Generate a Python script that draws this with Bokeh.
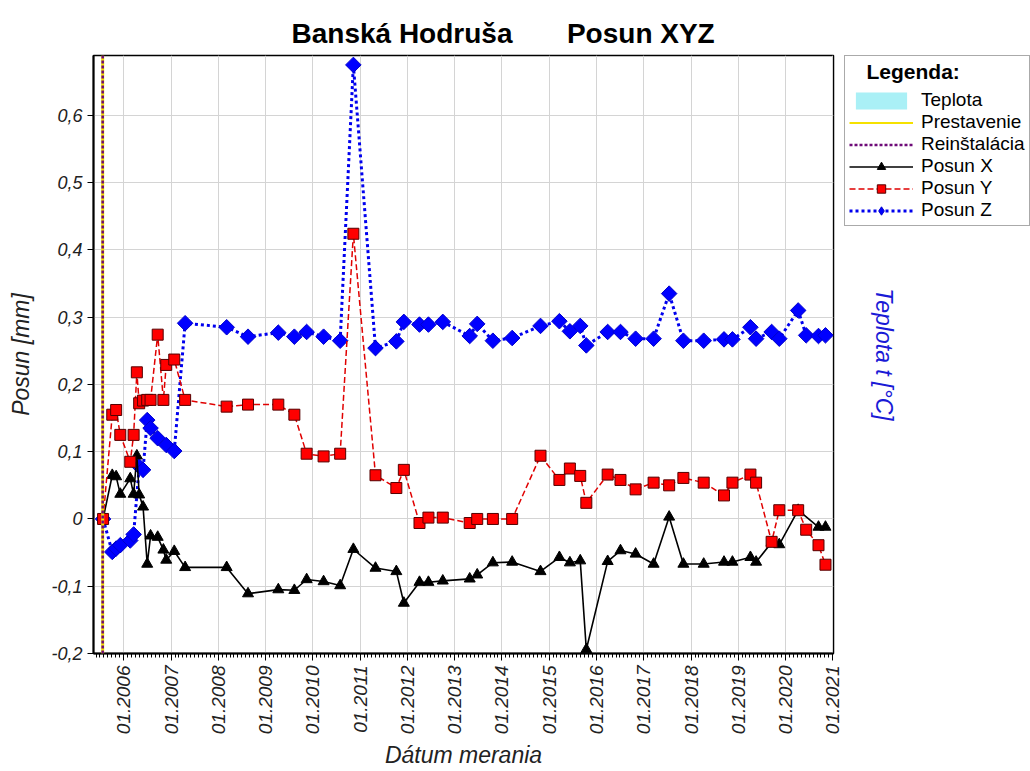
import math
import pandas as pd
from bokeh.plotting import figure
from bokeh.layouts import row
from bokeh.models import (ColumnDataSource, Range1d, FixedTicker, Label,
                          CustomJSTickFormatter, DatetimeTickFormatter, Span,
                          Legend, LegendItem)
from bokeh.embed import file_html
from bokeh.resources import INLINE

FONT = "Liberation Sans"

TITLE = "Banská Hodruša\u00a0\u00a0\u00a0\u00a0\u00a0\u00a0\u00a0Posun XYZ"

DATES = ["2005-07-25", "2005-10-04", "2005-11-03", "2005-12-05", "2006-02-20",
         "2006-03-18", "2006-04-12", "2006-04-30", "2006-05-30", "2006-07-01",
         "2006-07-27", "2006-09-20", "2006-11-03", "2006-11-25", "2007-01-26",
         "2007-04-20", "2008-03-06", "2008-08-18", "2009-04-09", "2009-08-11",
         "2009-11-14", "2010-03-25", "2010-07-31", "2010-11-10", "2011-04-30",
         "2011-10-08", "2011-12-05", "2012-04-04", "2012-06-12", "2012-10-01",
         "2013-04-27", "2013-06-24", "2013-10-23", "2014-03-21", "2014-10-26",
         "2015-03-21", "2015-06-10", "2015-08-29", "2015-10-15", "2016-03-28",
         "2016-07-05", "2016-10-30", "2017-03-18", "2017-07-16", "2017-11-03",
         "2018-04-09", "2018-09-13", "2018-11-17", "2019-04-05", "2019-05-19",
         "2019-09-16", "2019-11-14", "2020-04-08", "2020-06-09", "2020-09-12",
         "2020-11-05"]

POSUN_X = [0.0, 0.065, 0.063, 0.037, 0.060, 0.037, 0.094, 0.036, 0.018, -0.067,
           -0.025, -0.027, -0.046, -0.061, -0.048, -0.072,
           -0.072, -0.111, -0.105, -0.106, -0.090, -0.093, -0.099, -0.045,
           -0.073, -0.078, -0.125, -0.094, -0.094, -0.092, -0.089, -0.083,
           -0.065, -0.064, -0.078, -0.057, -0.065, -0.062, -0.194, -0.063,
           -0.047, -0.052, -0.067, 0.003, -0.067, -0.067, -0.064, -0.064,
           -0.057, -0.064, -0.035, -0.038, 0.013, None, -0.012, -0.012]

POSUN_Y = [0.0, 0.155, 0.162, 0.125, 0.085, 0.125, 0.218, 0.172, 0.176, 0.177,
           0.177, 0.274, 0.177, 0.229, 0.237, 0.177,
           0.167, 0.170, 0.170, 0.155, 0.097, 0.093, 0.097, 0.424,
           0.065, 0.046, 0.073, -0.006, 0.002, 0.002, -0.006, 0.000,
           0.000, 0.000, 0.094, 0.058, 0.075, 0.064, 0.024, 0.066,
           0.058, 0.044, 0.054, 0.050, 0.061, 0.054, 0.035, 0.054,
           0.066, 0.054, -0.034, 0.013, 0.013, -0.016, -0.039, -0.068]

POSUN_Z = [0.0, -0.049, -0.044, -0.039, -0.032, -0.023, None, 0.078, 0.073, 0.147,
           0.135, 0.120, None, 0.110, 0.101, 0.291,
           0.285, 0.271, 0.277, 0.271, 0.278, 0.271, 0.265, 0.675,
           0.254, 0.264, 0.293, 0.289, 0.289, 0.293, 0.272, 0.290,
           0.265, 0.269, 0.287, 0.294, 0.279, 0.287, 0.258, 0.278,
           0.278, 0.268, 0.268, 0.335, 0.265, 0.265, 0.267, 0.267,
           0.285, 0.268, 0.278, 0.268, 0.310, 0.273, 0.272, 0.273]

REINSTALACIA = "2005-07-22"
PRESTAVENIE = "2005-07-22"

Y_TICKS = [-0.2, -0.1, 0.0, 0.1, 0.2, 0.3, 0.4, 0.5, 0.6]
TICK_YEARS = list(range(2006, 2022))
X_START, X_END = "2005-05-12", "2021-01-06"
Y_MIN, Y_MAX = -0.2, 0.689

LEGEND_LABELS = ["Teplota", "Prestavenie", "Reinštalácia", "Posun X", "Posun Y", "Posun Z"]
TEMP_LABEL = "Teplota t [°C]"

C_X, C_Y, C_Z = "black", "#ff0000", "#0000ff"
C_TEMP, C_PRE, C_REI = "#aaf0f6", "#f5e100", "#6e0a78"

W, H = 1030, 771
PW = 844                      # width of the main plot
F_LEFT, F_TOP, F_BOTTOM = 93, 55, 653


def ms(d):
    return pd.Timestamp(d).value / 1e6


def source(vals):
    pairs = [(pd.Timestamp(d), v) for d, v in zip(DATES, vals) if v is not None]
    return ColumnDataSource(dict(x=[a for a, _ in pairs], y=[b for _, b in pairs]))


p = figure(width=PW, height=H, x_axis_type="datetime",
           x_range=Range1d(pd.Timestamp(X_START), pd.Timestamp(X_END)),
           y_range=Range1d(Y_MIN, Y_MAX),
           output_backend="svg", toolbar_location=None,
           min_border_left=F_LEFT, min_border_right=PW - 833, min_border_top=F_TOP,
           min_border_bottom=H - F_BOTTOM, background_fill_color="white")

p.title.text = TITLE
p.title.text_font = FONT
p.title.text_font_size = "28px"
p.title.text_font_style = "bold"
p.title.text_color = "black"
p.title.align = "left"
p.title.offset = 198
p.title.standoff = 13

p.outline_line_color = "black"
p.outline_line_width = 1.5

p.xgrid.grid_line_color = "#d4d4d4"
p.ygrid.grid_line_color = "#d4d4d4"

# left axis
ya = p.yaxis[0]
ya.ticker = FixedTicker(ticks=Y_TICKS)
ya.formatter = CustomJSTickFormatter(code="""
    if (Math.abs(tick) < 1e-9) { return "0"; }
    return tick.toFixed(1).replace(".", ",");
""")
ya.axis_label = "Posun [mm]"
ya.axis_label_text_font = FONT
ya.axis_label_text_font_style = "italic"
ya.axis_label_text_font_size = "23px"
ya.axis_label_text_color = "#222222"
ya.axis_label_standoff = 14
ya.major_label_text_font = FONT
ya.major_label_text_font_style = "italic"
ya.major_label_text_font_size = "18px"
ya.major_label_text_color = "#222222"
ya.major_tick_out = 6
ya.major_tick_in = 0
ya.minor_tick_line_color = None
ya.axis_line_width = 2
ya.axis_line_color = "black"

# bottom axis
xa = p.xaxis[0]
xa.ticker = FixedTicker(ticks=[ms(f"{y}-01-01") for y in TICK_YEARS],
                        minor_ticks=[ms(f"{y}-{m:02d}-01") for y in range(2005, 2022)
                                     for m in range(1, 13)])
fmt = "%m.%Y"
xa.formatter = DatetimeTickFormatter(years=fmt, months=fmt, days=fmt, hours=fmt,
                                     hourmin=fmt, minutes=fmt, minsec=fmt,
                                     seconds=fmt, milliseconds=fmt,
                                     microseconds=fmt)
xa.major_label_orientation = math.pi / 2
xa.axis_label = "Dátum merania"
xa.axis_label_text_font = FONT
xa.axis_label_text_font_style = "italic"
xa.axis_label_text_font_size = "23px"
xa.axis_label_text_color = "#222222"
xa.axis_label_standoff = 5
xa.major_label_standoff = 5
xa.major_label_text_font = FONT
xa.major_label_text_font_style = "italic"
xa.major_label_text_font_size = "19px"
xa.major_label_text_color = "#222222"
xa.major_tick_out = 7
xa.major_tick_in = 0
xa.minor_tick_out = 4
xa.minor_tick_in = 0
xa.axis_line_width = 2
xa.axis_line_color = "black"

# vertical event lines
p.add_layout(Span(location=ms(PRESTAVENIE), dimension="height",
                  line_color=C_PRE, line_width=3))
p.add_layout(Span(location=ms(REINSTALACIA), dimension="height",
                  line_color=C_REI, line_width=2.5, line_dash="3 2"))

# series
sz = source(POSUN_Z)
sx = source(POSUN_X)
sy = source(POSUN_Y)

Z_LINE = dict(line_color="#0000ee", line_width=3, line_dash="3 3")
Z_MARK = dict(marker="square", angle=math.pi / 4, size=11, fill_color=C_Z, line_color="#0000cc")
X_LINE = dict(line_color=C_X, line_width=1.6)
X_MARK = dict(marker="triangle", size=11, fill_color=C_X, line_color=C_X)
Y_LINE = dict(line_color="#e00000", line_width=1.5, line_dash="6 3")
Y_MARK = dict(marker="square", size=11, fill_color=C_Y, line_color="#550000")

p.line("x", "y", source=sz, **Z_LINE)
p.scatter("x", "y", source=sz, **Z_MARK)
p.line("x", "y", source=sx, **X_LINE)
p.scatter("x", "y", source=sx, **X_MARK)
p.line("x", "y", source=sy, **Y_LINE)
p.scatter("x", "y", source=sy, **Y_MARK)

# ---- side panel: legend + temperature axis title ----
q = figure(width=W - PW, height=H, x_range=Range1d(0, 1), y_range=Range1d(0, 1),
           output_backend="svg", toolbar_location=None,
           x_axis_location=None, y_axis_location=None,
           min_border_left=0, min_border_right=0, min_border_top=F_TOP,
           min_border_bottom=H - F_BOTTOM, outline_line_color=None,
           background_fill_color="white")
q.grid.visible = False

nan = float("nan")
proxy = ColumnDataSource(dict(x=[nan], y=[nan], l=[nan], r=[nan], t=[nan], b=[nan]))
r_tep = q.quad(left="l", right="r", top="t", bottom="b", source=proxy,
               fill_color=C_TEMP, line_color=None)
r_pre = q.line("x", "y", source=proxy, line_color=C_PRE, line_width=2)
r_rei = q.line("x", "y", source=proxy, line_color=C_REI, line_width=2.5, line_dash="3 2")
r_xl = q.line("x", "y", source=proxy, **X_LINE)
r_xm = q.scatter("x", "y", source=proxy, **X_MARK)
r_yl = q.line("x", "y", source=proxy, **Y_LINE)
r_ym = q.scatter("x", "y", source=proxy, **Y_MARK)
r_zl = q.line("x", "y", source=proxy, **Z_LINE)
r_zm = q.scatter("x", "y", source=proxy, marker="diamond", fill_color=C_Z,
                 line_color="#0000cc")

groups = [[r_tep], [r_pre], [r_rei], [r_xl, r_xm], [r_yl, r_ym], [r_zl, r_zm]]
legend = Legend(items=[LegendItem(label=lab, renderers=g) for lab, g in zip(LEGEND_LABELS, groups)],
                location="top_left", title="\u00a0\u00a0\u00a0Legenda:")
legend.title_text_font = FONT
legend.title_text_font_style = "bold"
legend.title_text_font_size = "21px"
legend.title_text_color = "black"
legend.title_standoff = 5
legend.label_text_font = FONT
legend.label_text_font_size = "19px"
legend.label_text_color = "black"
legend.label_height = 20
legend.glyph_height = 21
legend.glyph_width = 64
legend.label_standoff = 8
legend.spacing = 0
legend.padding = 4
legend.margin = 0
legend.border_line_color = "#555555"
legend.border_line_width = 1
legend.background_fill_alpha = 1
q.add_layout(legend)

q.add_layout(Label(x=0.21, y=0.5, text=TEMP_LABEL, angle=-math.pi / 2,
                   text_align="center", text_baseline="middle", text_font=FONT,
                   text_font_style="italic", text_font_size="23px",
                   text_color="#1a1ad6"))

layout = row(p, q)
open("out.html", "w").write(file_html(layout, INLINE))
